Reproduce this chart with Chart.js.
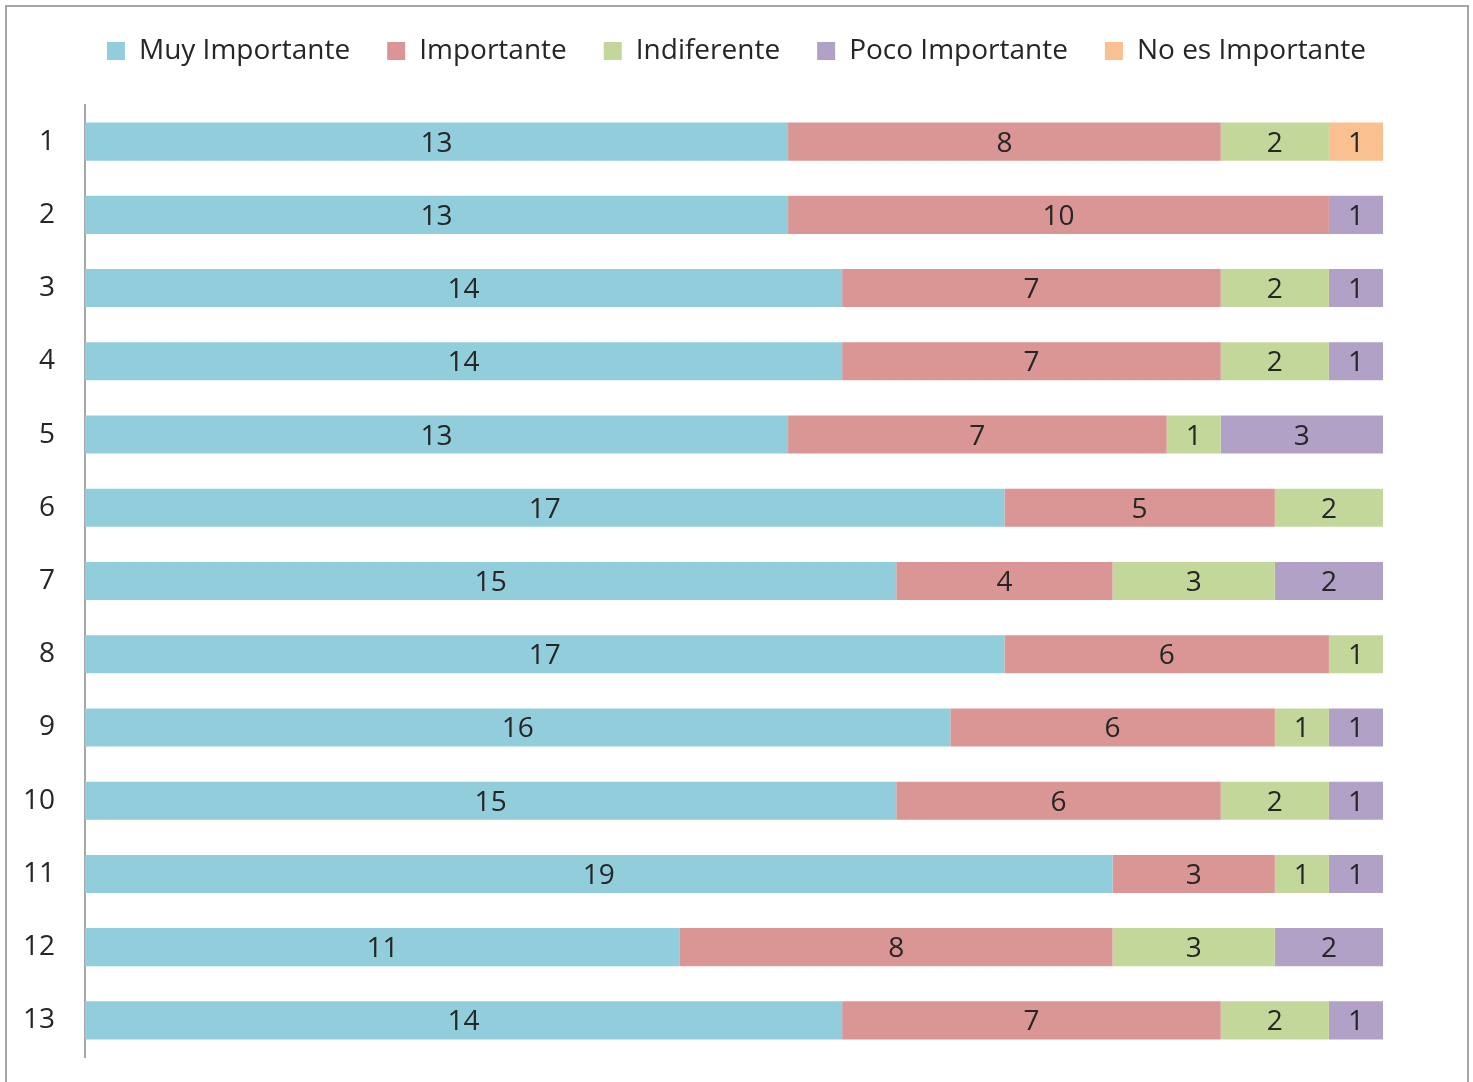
<!DOCTYPE html>
<html>
<head>
<meta charset="utf-8">
<script src="https://cdn.jsdelivr.net/npm/chart.js@4.4.1/dist/chart.umd.min.js"></script>
<style>
  body { margin: 0; background: #fff; overflow: hidden; }
  #frame { position: absolute; left: 5px; top: 5px; width: 1460px; height: 1090px; border: 2px solid #a6a6a6; }
  #chart { position: absolute; left: 0; top: 0; }
</style>
</head>
<body>
<div id="frame"></div>
<canvas id="chart" width="1473" height="1082"></canvas>
<script>
// categories (rows)
const rows = ["1", "2", "3", "4", "5", "6", "7", "8", "9", "10", "11", "12", "13"];

// series
const muyImportante = [13, 13, 14, 14, 13, 17, 15, 17, 16, 15, 19, 11, 14];
const importante = [8, 10, 7, 7, 7, 5, 4, 6, 6, 6, 3, 8, 7];
const indiferente = [2, 0, 2, 2, 1, 2, 3, 1, 1, 2, 1, 3, 2];
const pocoImportante = [0, 1, 1, 1, 3, 0, 2, 0, 1, 1, 1, 2, 1];
const noEsImportante = [1, 0, 0, 0, 0, 0, 0, 0, 0, 0, 0, 0, 0];

const FONT = "'Open Sans', sans-serif";
const TEXT = "#262626";

// value labels centred in each segment
const segmentLabels = {
  id: "segmentLabels",
  afterDatasetsDraw(chart) {
    const ctx = chart.ctx;
    ctx.save();
    ctx.font = "28px " + FONT;
    ctx.fillStyle = TEXT;
    ctx.textAlign = "center";
    ctx.textBaseline = "middle";
    chart.data.datasets.forEach((ds, i) => {
      const meta = chart.getDatasetMeta(i);
      meta.data.forEach((bar, j) => {
        const v = ds.data[j];
        if (!v) return;
        const c = bar.getCenterPoint();
        ctx.fillText(v, c.x, c.y + 2);
      });
    });
    ctx.restore();
  }
};

// legend: fixed block height, centred on the whole canvas
const legendBlock = {
  id: "legendBlock",
  afterInit(chart) {
    const lg = chart.legend;
    if (!lg) return;
    const fit = lg.fit.bind(lg);
    lg.fit = function () {
      fit();
      this.height = 105;
    };
  },
  afterLayout(chart) {
    const lg = chart.legend;
    if (!lg) return;
    lg.left = 0;
    lg.right = chart.width;
    lg.width = chart.width;
  }
};

new Chart(document.getElementById("chart"), {
  type: "bar",
  data: {
    labels: rows,
    datasets: [
      { label: "Muy Importante", data: muyImportante, backgroundColor: "#92cddc" },
      { label: "Importante", data: importante, backgroundColor: "#d99694" },
      { label: "Indiferente", data: indiferente, backgroundColor: "#c4d79b" },
      { label: "Poco Importante", data: pocoImportante, backgroundColor: "#b2a1c7" },
      { label: "No es Importante", data: noEsImportante, backgroundColor: "#fac090" }
    ]
  },
  options: {
    indexAxis: "y",
    responsive: false,
    animation: false,
    datasets: {
      bar: { categoryPercentage: 1, barPercentage: 0.52 }
    },
    layout: { padding: { left: 0, right: 90, top: 0, bottom: 25 } },
    plugins: {
      legend: {
        position: "top",
        labels: {
          boxWidth: 18,
          boxHeight: 18,
          padding: 37,
          color: TEXT,
          font: { family: FONT, size: 28 }
        }
      },
      tooltip: { enabled: false }
    },
    scales: {
      x: { stacked: true, display: false, min: 0, max: 24 },
      y: {
        stacked: true,
        afterFit: (scale) => {
          scale.width = 85;
          scale.paddingTop = 0;
          scale.paddingBottom = 0;
        },
        grid: { display: false, drawTicks: false },
        border: { display: true, color: "#a6a6a6", width: 2 },
        ticks: { padding: 30, color: TEXT, font: { family: FONT, size: 28 } }
      }
    }
  },
  plugins: [segmentLabels, legendBlock]
});
</script>
</body>
</html>
